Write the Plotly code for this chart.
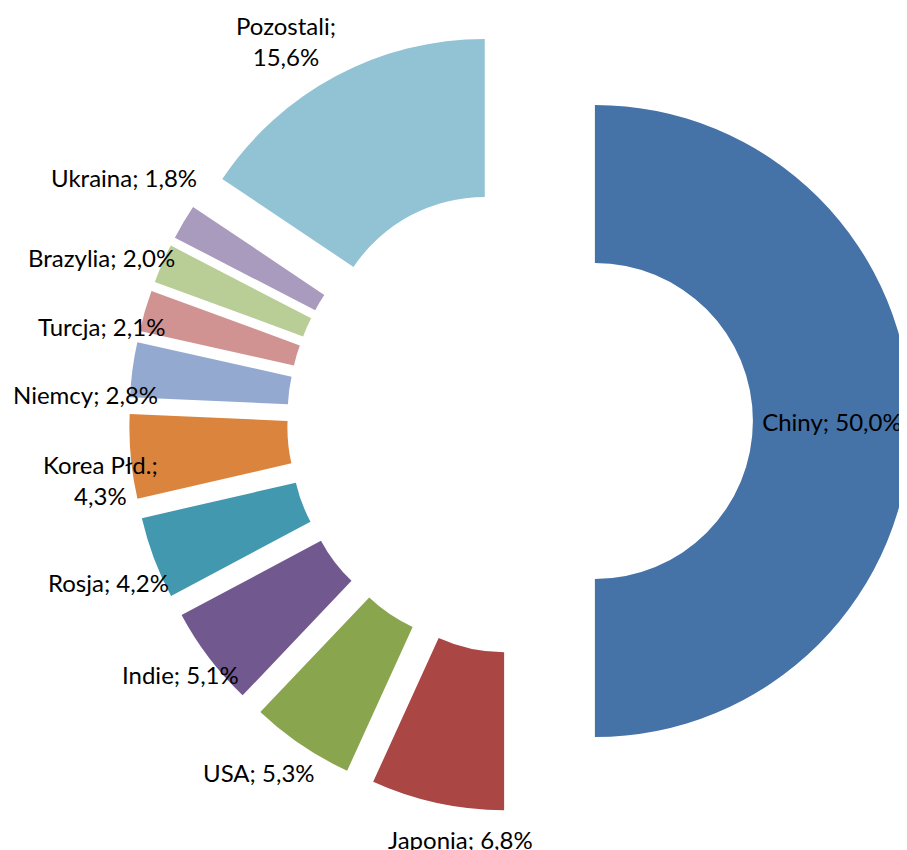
import plotly.graph_objects as go

labels = ["Chiny", "Japonia", "USA", "Indie", "Rosja", "Korea Płd.", "Niemcy",
          "Turcja", "Brazylia", "Ukraina", "Pozostali"]
values = [50.0, 6.8, 5.3, 5.1, 4.2, 4.3, 2.8, 2.1, 2.0, 1.8, 15.6]
colors = ["#4572A7", "#AA4643", "#89A54E", "#71588F", "#4198AF", "#DB843D",
          "#93A9CF", "#D19392", "#B9CD96", "#A99BBD", "#92C3D4"]
wrapped = {"Korea Płd.", "Pozostali"}

# label centres (page pixels) for the outside labels, Excel-style manual placement
label_px = {
    "Japonia": (460, 839),
    "USA": (259, 772),
    "Indie": (180, 674),
    "Rosja": (108, 582),
    "Korea Płd.": (100, 480),
    "Niemcy": (85, 394),
    "Turcja": (101, 327),
    "Brazylia": (101, 257),
    "Ukraina": (124, 178),
    "Pozostali": (286, 41),
}

W, H, OFF = 907, 850, 8

texts = []
for lab, v in zip(labels, values):
    val = f"{v:.1f}".replace(".", ",") + "%"
    sep = ";<br>" if lab in wrapped else "; "
    texts.append(lab + sep + val)

pie_text_pos = ["inside" if lab not in label_px else "none" for lab in labels]

fig = go.Figure(go.Pie(
    labels=labels,
    values=values,
    text=texts,
    textinfo="text",
    textposition=pie_text_pos,
    insidetextorientation="horizontal",
    sort=False,
    direction="clockwise",
    rotation=0,
    hole=0.5,
    pull=[0.237] * len(labels),
    marker=dict(colors=colors, line=dict(width=0)),
    insidetextfont=dict(family="Lato", size=24, color="#000000"),
    domain=dict(x=[0.1335, 0.9955], y=[0.0541, 0.9741]),
    showlegend=False,
))

annotations = []
for lab, t in zip(labels, texts):
    if lab not in label_px:
        continue
    px, py = label_px[lab]
    annotations.append(dict(
        text=t, x=(px - OFF) / W, y=1 - (py - OFF) / H,
        xref="paper", yref="paper", xanchor="center", yanchor="middle",
        showarrow=False, align="center",
        font=dict(family="Lato", size=24, color="#000000"),
    ))

fig.update_layout(
    width=W, height=H,
    margin=dict(l=0, r=0, t=0, b=0),
    paper_bgcolor="white",
    plot_bgcolor="white",
    showlegend=False,
    annotations=annotations,
)

fig.write_html("out.html")
